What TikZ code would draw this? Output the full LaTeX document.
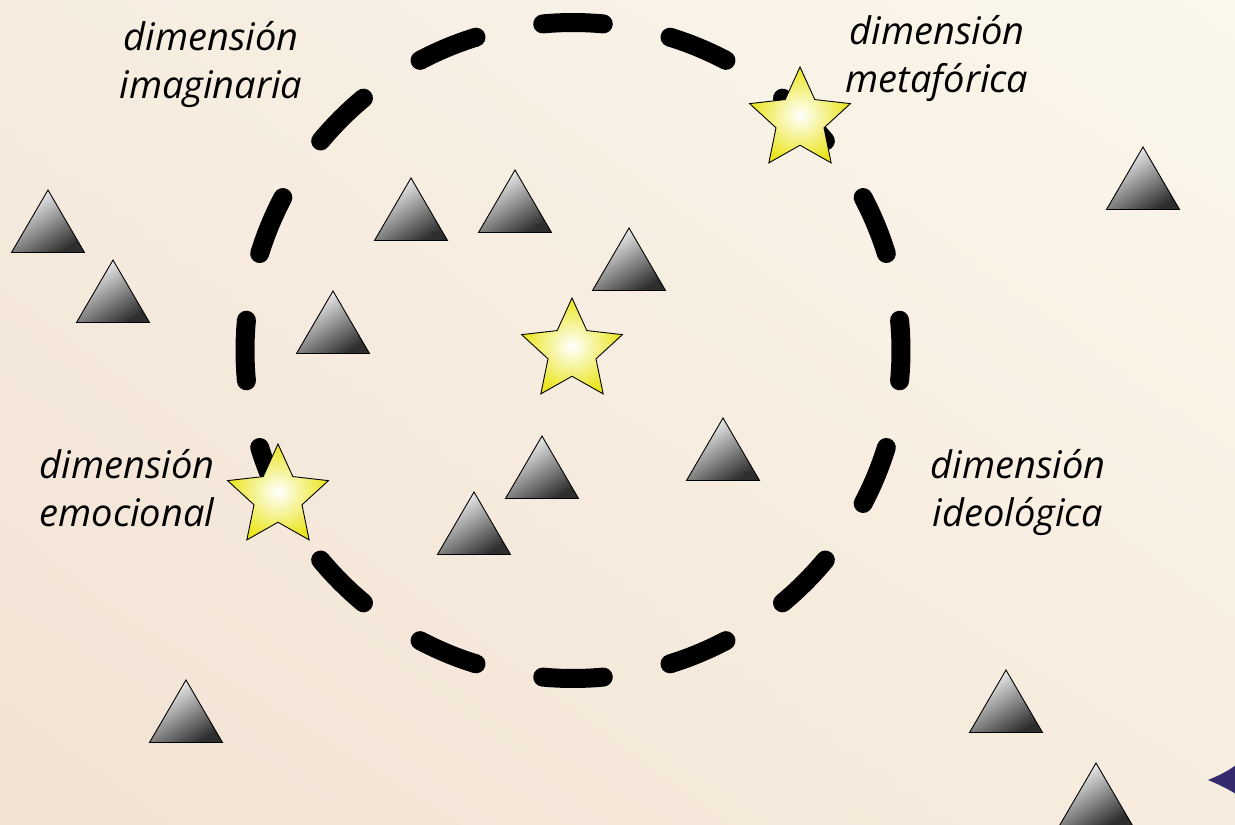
\documentclass[tikz,border=0pt]{standalone}
\usepackage{fontspec}
\setmainfont{Open Sans}
\usetikzlibrary{shapes.geometric,shadings}
\definecolor{bgUL}{HTML}{F6ECE0}
\definecolor{bgUR}{HTML}{FBF7EC}
\definecolor{bgLL}{HTML}{F2E2D3}
\definecolor{bgLR}{HTML}{F7EDDF}
\definecolor{staryellow}{RGB}{234,229,28}
\definecolor{navyshape}{HTML}{352A6E}
\tikzset{
  dashsty/.style={line width=19pt, line cap=round, black},
  starsty/.style={shape=star, star points=5, star point ratio=2.1, minimum size=106pt, inner sep=0pt,
     draw=black, line width=0.9pt, shading=radial, inner color=white, outer color=staryellow},
  tristy/.style={draw=black, line width=0.9pt, top color=white, middle color=black!32, bottom color=black!82, shading angle=32},
  lbl/.style={font=\fontsize{38}{48}\selectfont\itshape, align=center, inner sep=0pt, anchor=north}
}
\begin{document}
\begin{tikzpicture}[x=1pt,y=-1pt]
\useasboundingbox (0,0) rectangle (1235,825);
\shade[upper left=bgUL, upper right=bgUR, lower left=bgLL, lower right=bgLR] (0,0) rectangle (1235,825);
% triangles
\foreach \tx/\ty in {48/190, 113/260, 411/178, 515/170, 629/228, 333/291, 723/418, 542/436, 474/492, 1143/147, 186/680, 1006/670, 1096/763}
  \shadedraw[tristy] (\tx,\ty) -- ++(36.5,62.5) -- ++(-73,0) -- cycle;
% dashed circle
\coordinate (O) at (573,350.5);
\foreach \a in {0,22.5,...,337.5}
  \draw[dashsty] (O) ++(\a-5.3:328) arc[start angle=\a-5.3, end angle=\a+5.3, radius=328];
% stars
\node[starsty] (s1) at (800,120) {};
\node[starsty] (s2) at (572,351) {};
\node[starsty] (s3) at (278,497) {};
% labels
\node[lbl] (imag) at (211,21) {dimensión\\imaginaria};
\node[lbl] (meta) at (937,15) {dimensión\\metafórica};
\node[lbl] (emoc) at (127,449) {dimensión\\emocional};
\node[lbl] (ideo) at (1018,449) {dimensión\\ideológica};
% partial navy shape at right edge
\fill[navyshape] (1208,780) .. controls (1218,776) and (1228,771) .. (1236,765) -- (1236,794) .. controls (1228,789) and (1218,784) .. cycle;
\end{tikzpicture}
\end{document}
